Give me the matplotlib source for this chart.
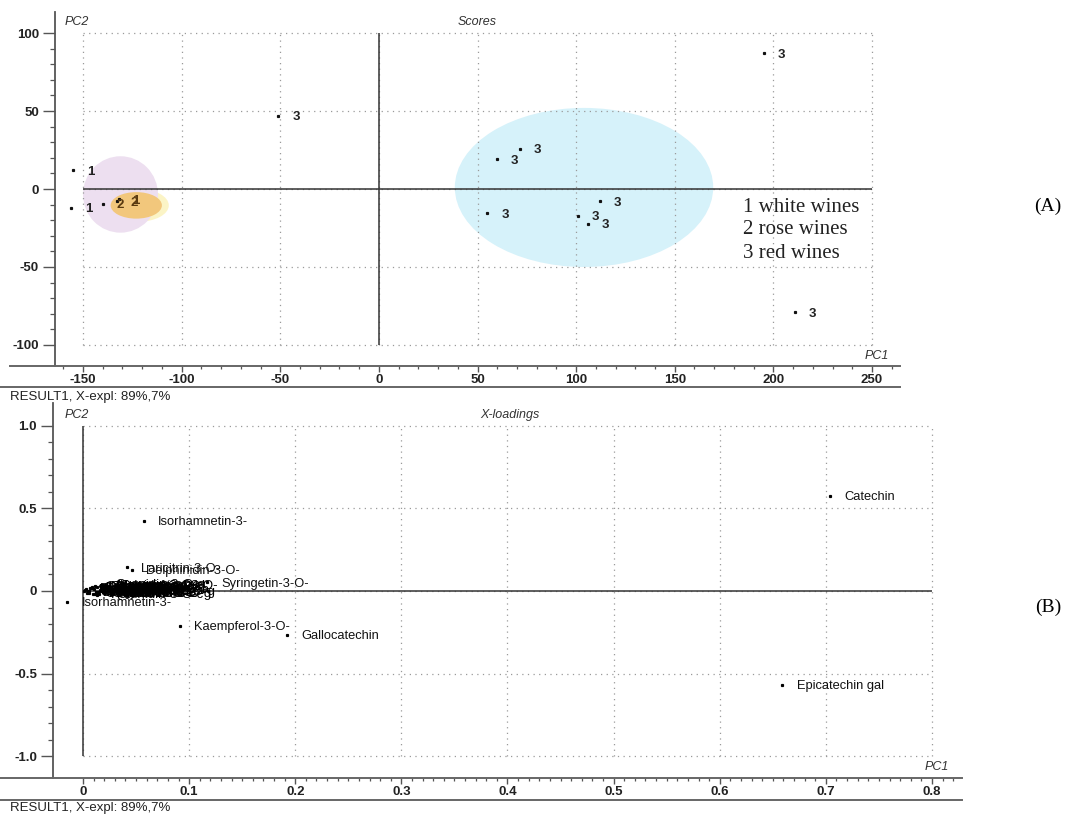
import matplotlib.pyplot as plt
from matplotlib.patches import Ellipse
from matplotlib.lines import Line2D
from matplotlib.ticker import FixedLocator
import numpy as np

plt.rcParams['font.family'] = ['Liberation Sans', 'DejaVu Sans']

# (A) scores
score_pc1 = [-155, -156, -140, -133, -132, -51, 195, 60, 71.5, 55, 112, 101, 106, 211]
score_pc2 = [12, -12, -9.5, -8, -6.5, 47, 87, 19, 25.6, -15.5, -8, -17.3, -22.4, -79]
score_class = ['1', '1', '2', '2', '1', '3', '3', '3', '3', '3', '3', '3', '3', '3']

# group ellipses: centre x, centre y, width, height, colour
ell_cx = [-131, -123, 104]
ell_cy = [-3.5, -10.5, 1]
ell_w = [38, 26, 131]
ell_h = [49, 17, 102]
ell_col = ['#eddff0', '#f2c77c', '#d6f2fa']

legend_lines = ['1 white wines', '2 rose wines', '3 red wines']

# (B) loadings
load_names = ['Catechin', 'Epicatechin gal', 'Gallocatechin', 'Kaempferol-3-O-',
              'Isorhamnetin-3-', 'Isorhamnetin-3-', 'Syringetin-3-O-',
              'Laricitrin-3-O-', 'Delphinidin-3-O-']
load_pc1 = [0.704, 0.659, 0.192, 0.091, 0.057, -0.015, 0.117, 0.041, 0.046]
load_pc2 = [0.574, -0.568, -0.266, -0.21, 0.423, -0.066, 0.052, 0.142, 0.128]

# crowded variables near the origin
cluster_names = ['Malvidin-3-O-g', 'Peonidin-3-O-g', 'Petunidin-3-O-', 'Cyanidin-3-O-g',
                 'Delphinidin-3-', 'Quercetin-3-O-', 'Myricetin-3-O-', 'Kaempferol-3-O-',
                 'Procyanidin B1', 'Procyanidin B2', 'Epicatechin', 'Gallic acid',
                 'Caftaric acid', 'Coutaric acid', 'Caffeic acid', 'p-Coumaric acid',
                 'Ferulic acid', 'Resveratrol', 'Piceid', 'Astilbin', 'Taxifolin',
                 'Quercetin', 'Myricetin', 'Syringic acid', 'Malvidin-3-O-a',
                 'Peonidin-3-O-c', 'Malvidin-3-O-c', 'Laricitrin-3-O-',
                 'Petunidin-3-O-c', 'Cyanidin-3-O-a', 'Procyanidin C1', 'Quercetin-3-O-g']
cluster_pc1 = [0.026, 0.018, 0.012, 0.008, 0.020, 0.015, 0.010, 0.022, 0.005, 0.013,
               0.002, 0.004, 0.007, 0.009, 0.016, 0.011, 0.019, 0.006, 0.003, 0.014,
               0.017, 0.021, 0.023, 0.001, 0.024, 0.011, 0.019, 0.008,
               0.013, 0.017, 0.006, 0.021]
cluster_pc2 = [-0.020, 0.020, -0.006, 0.026, 0.004, -0.016, 0.012, 0.030, -0.002, 0.022,
               0.006, -0.012, 0.016, -0.019, 0.009, 0.031, -0.009, 0.001, 0.011, -0.004,
               0.024, -0.014, 0.017, 0.003, 0.007, -0.017, 0.028, 0.020,
               -0.023, 0.034, -0.010, -0.008]

fig = plt.figure(figsize=(10.69, 8.14), dpi=100)

grid_kw = dict(colors='#9a9a9a', linestyles=(0, (1, 3.5)), lw=0.9, zorder=1)
zero_kw = dict(colors='#333333', lw=1.1, zorder=2)


def style_axes(ax, xmaj, xmin, ymaj, ymin, xlabels, ylabels):
    for s in ['top', 'right', 'bottom']:
        ax.spines[s].set_visible(False)
    ax.spines['left'].set_color('#555555')
    ax.spines['left'].set_linewidth(1.3)
    ax.xaxis.set_major_locator(FixedLocator(xmaj))
    ax.xaxis.set_minor_locator(FixedLocator(xmin))
    ax.yaxis.set_major_locator(FixedLocator(ymaj))
    ax.yaxis.set_minor_locator(FixedLocator(ymin))
    ax.set_xticklabels(xlabels, fontsize=9.5, fontweight='bold', color='#222222')
    ax.set_yticklabels(ylabels, fontsize=9.5, fontweight='bold', color='#222222')
    ax.tick_params(axis='x', which='major', length=4, width=1, color='#555555', pad=2)
    ax.tick_params(axis='x', which='minor', length=2.2, width=0.9, color='#555555')
    ax.tick_params(axis='y', which='major', length=8.5, width=1, color='#555555', pad=3)
    ax.tick_params(axis='y', which='minor', length=3.5, width=0.9, color='#555555')
    ax.set_facecolor('white')


# ---- panel A ----
ax1 = fig.add_axes([55 / 1069, 1 - 366 / 814, 845 / 1069, 354 / 814])
ax1.set_xlim(-164.2, 264.2)
ax1.set_ylim(-113.5, 113.5)
xt1 = np.arange(-150, 251, 50)
yt1 = np.arange(-100, 101, 50)
style_axes(ax1, xt1, np.arange(-160, 261, 10), yt1, np.arange(-100, 101, 10),
           ['-150', '-100', '-50', '0', '50', '100', '150', '200', '250'],
           ['-100', '-50', '0', '50', '100'])

# yellow halo round the rose group
ax1.add_patch(Ellipse((ell_cx[1] + 1, ell_cy[1]), ell_w[1] + 5, ell_h[1] + 4,
                      facecolor='#fbf2b8', edgecolor='none', alpha=0.8, zorder=0.4))
for cx, cy, w, h, c in zip(ell_cx, ell_cy, ell_w, ell_h, ell_col):
    ax1.add_patch(Ellipse((cx, cy), w, h, facecolor=c, edgecolor='none', zorder=0.5))

ax1.vlines(xt1, -100, 100, **grid_kw)
ax1.hlines(yt1, -150, 250, **grid_kw)
ax1.hlines(0, -150, 250, **zero_kw)
ax1.vlines(0, -100, 100, **zero_kw)

ax1.plot(score_pc1, score_pc2, 's', ms=1.3, color='#111111', zorder=3)
for x, y, c in zip(score_pc1, score_pc2, score_class):
    ax1.annotate(c, (x, y), xytext=(10, -1), textcoords='offset points',
                 ha='left', va='center', fontsize=9.5, fontweight='bold',
                 color='#5a3a10' if x < -125 and y < 0 and x > -150 else '#222222',
                 zorder=4)

ax1.text(0.026, 0.972, 'PC2', transform=ax1.transAxes, fontsize=9, style='italic',
         ha='center', va='center', color='#333333')
ax1.text(0.5, 0.972, 'Scores', transform=ax1.transAxes, fontsize=9, style='italic',
         ha='center', va='center', color='#333333')
ax1.text(0.973, 0.027, 'PC1', transform=ax1.transAxes, fontsize=9, style='italic',
         ha='center', va='center', color='#333333')

for i, t in enumerate(legend_lines):
    fig.text(743 / 1069, 1 - (207 + 23 * i) / 814, t, fontsize=15,
             family=['Liberation Serif', 'DejaVu Serif'], color='#222222',
             ha='left', va='center')

fig.add_artist(Line2D([10 / 1069, 900 / 1069], [1 - 366 / 814] * 2,
                      transform=fig.transFigure, color='#666666', lw=1.4))
fig.add_artist(Line2D([0, 900 / 1069], [1 - 387 / 814] * 2,
                      transform=fig.transFigure, color='#666666', lw=1.4))
fig.text(10 / 1069, 1 - 397 / 814, 'RESULT1, X-expl: 89%,7%', fontsize=9.5,
         ha='left', va='center', color='#222222')

# ---- panel B ----
ax2 = fig.add_axes([53 / 1069, 1 - 778 / 814, 909 / 1069, 375 / 814])
ax2.set_xlim(-0.0283, 0.8283)
ax2.set_ylim(-1.13, 1.136)
xt2 = np.round(np.arange(0, 0.81, 0.1), 2)
yt2 = np.array([-1.0, -0.5, 0, 0.5, 1.0])
style_axes(ax2, xt2, np.round(np.arange(0, 0.821, 0.01), 3), yt2,
           np.round(np.arange(-1.0, 1.01, 0.1), 2),
           ['0', '0.1', '0.2', '0.3', '0.4', '0.5', '0.6', '0.7', '0.8'],
           ['-1.0', '-0.5', '0', '0.5', '1.0'])

ax2.vlines(xt2, -1, 1, **grid_kw)
ax2.hlines(yt2, 0, 0.8, **grid_kw)
ax2.hlines(0, 0, 0.8, **zero_kw)
ax2.vlines(0, -1, 1, **zero_kw)

ax2.plot(cluster_pc1, cluster_pc2, 's', ms=1.3, color='k', zorder=3)
for x, y, n in zip(cluster_pc1, cluster_pc2, cluster_names):
    ax2.annotate(n, (x, y), xytext=(10, 0), textcoords='offset points',
                 ha='left', va='center', fontsize=9.5, color='k', zorder=4)

ax2.plot(load_pc1, load_pc2, 's', ms=1.3, color='k', zorder=3)
for x, y, n in zip(load_pc1, load_pc2, load_names):
    ax2.annotate(n, (x, y), xytext=(10.5, -1), textcoords='offset points',
                 ha='left', va='center', fontsize=9.3, color='#111111', zorder=4)

ax2.text(0.026, 0.968, 'PC2', transform=ax2.transAxes, fontsize=9, style='italic',
         ha='center', va='center', color='#333333')
ax2.text(0.503, 0.968, 'X-loadings', transform=ax2.transAxes, fontsize=9,
         style='italic', ha='center', va='center', color='#333333')
ax2.text(0.9725, 0.029, 'PC1', transform=ax2.transAxes, fontsize=9, style='italic',
         ha='center', va='center', color='#333333')

fig.add_artist(Line2D([0, 962 / 1069], [1 - 778 / 814] * 2,
                      transform=fig.transFigure, color='#666666', lw=1.4))
fig.add_artist(Line2D([0, 962 / 1069], [1 - 800 / 814] * 2,
                      transform=fig.transFigure, color='#666666', lw=1.4))
fig.text(10 / 1069, 1 - 808 / 814, 'RESULT1, X-expl: 89%,7%', fontsize=9.5,
         ha='left', va='center', color='#222222')

fig.text(1048 / 1069, 1 - 206 / 814, '(A)', fontsize=14,
         family=['Liberation Serif', 'DejaVu Serif'], ha='center', va='center')
fig.text(1048 / 1069, 1 - 607 / 814, '(B)', fontsize=14,
         family=['Liberation Serif', 'DejaVu Serif'], ha='center', va='center')

fig.savefig('out.png', dpi=100, facecolor='white')
